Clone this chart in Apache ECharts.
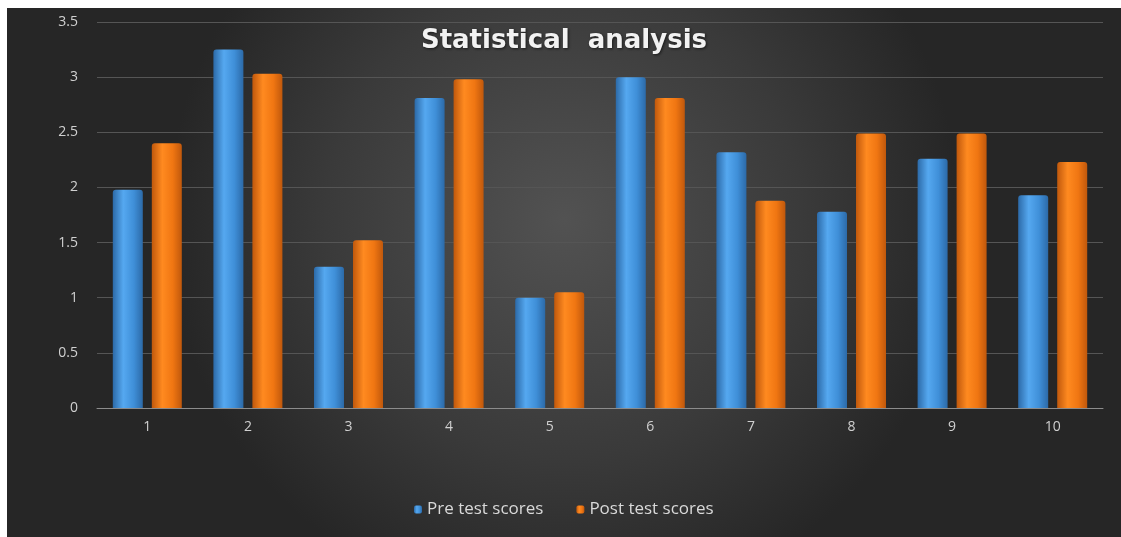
<!DOCTYPE html>
<html>
<head>
    <meta charset="utf-8"/>
    <title>Statistical analysis</title>
    <script src="https://cdn.jsdelivr.net/npm/echarts@6/dist/echarts.min.js"></script>
    <style>
        html, body { margin: 0; padding: 0; background: #ffffff; }
        #main { position: absolute; left: 7px; top: 8px; width: 1114px; height: 529px; }
    </style>
</head>
<body>
    <div id="main"></div>
    <script type="text/javascript">
        // data
        var categories = ['1', '2', '3', '4', '5', '6', '7', '8', '9', '10'];
        var preScores = [1.98, 3.25, 1.28, 2.81, 1.0, 3.0, 2.32, 1.78, 2.26, 1.93];
        var postScores = [2.4, 3.03, 1.52, 2.98, 1.05, 2.81, 1.88, 2.49, 2.49, 2.23];
        var seriesNames = ['Pre test scores', 'Post test scores'];

        function barGradient(dark, mid, light) {
            return new echarts.graphic.LinearGradient(0, 0, 1, 0, [
                { offset: 0, color: dark },
                { offset: 0.35, color: light },
                { offset: 0.7, color: mid },
                { offset: 1, color: dark }
            ]);
        }

        var myChart = echarts.init(document.getElementById('main'));
        var option = {
            backgroundColor: {
                type: 'radial', x: 0.5, y: 0.4, r: 0.75,
                colorStops: [
                    { offset: 0, color: '#525252' },
                    { offset: 0.6, color: '#3a3a3a' },
                    { offset: 1, color: '#262626' }
                ]
            },
            title: {
                text: 'Statistical  analysis',
                left: 'center',
                top: 15,
                textStyle: {
                    color: '#f2f2f2',
                    fontFamily: 'DejaVu Sans',
                    fontSize: 26,
                    fontWeight: 'bold',
                    textShadowColor: 'rgba(0,0,0,0.6)',
                    textShadowBlur: 3,
                    textShadowOffsetX: 1,
                    textShadowOffsetY: 1
                }
            },
            legend: {
                data: seriesNames,
                bottom: 14,
                left: 402,
                itemWidth: 8,
                itemHeight: 8,
                itemGap: 33,
                textStyle: { color: '#d9d9d9', fontSize: 17, fontFamily: 'Open Sans' }
            },
            grid: { left: 90, right: 18, top: 14, bottom: 129 },
            xAxis: {
                type: 'category',
                data: categories,
                axisTick: { show: false },
                axisLine: { lineStyle: { color: '#8c8c8c', width: 1 } },
                axisLabel: { color: '#d0d0d0', fontSize: 14, margin: 12, fontFamily: 'Open Sans' }
            },
            yAxis: {
                type: 'value',
                min: 0,
                max: 3.5,
                interval: 0.5,
                axisLine: { show: false },
                axisTick: { show: false },
                axisLabel: { color: '#d0d0d0', fontSize: 14, margin: 19, fontFamily: 'Open Sans' },
                splitLine: { lineStyle: { color: '#555555', width: 1 } }
            },
            series: [
                {
                    name: seriesNames[0],
                    type: 'bar',
                    data: preScores,
                    barWidth: 30,
                    barGap: '30%',
                    itemStyle: {
                        color: barGradient('#2c6aa8', '#3f8fd8', '#55a8f0'),
                        borderRadius: [3, 3, 0, 0]
                    }
                },
                {
                    name: seriesNames[1],
                    type: 'bar',
                    data: postScores,
                    barWidth: 30,
                    itemStyle: {
                        color: barGradient('#c0580c', '#f07612', '#ff8a20'),
                        borderRadius: [3, 3, 0, 0]
                    }
                }
            ]
        };
        myChart.setOption(option);
    </script>
</body>
</html>
